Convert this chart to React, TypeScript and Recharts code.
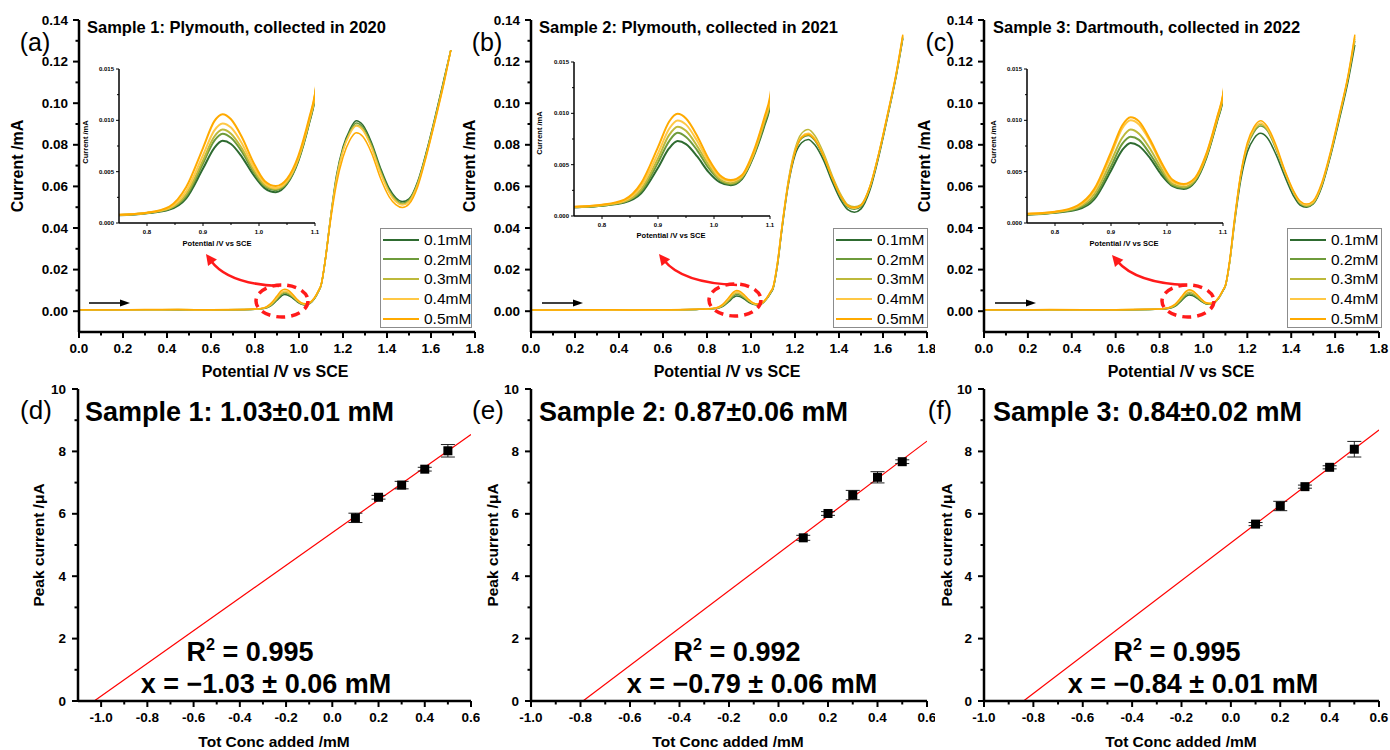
import React from 'react';
import { ComposedChart, Line, XAxis, YAxis, Scatter, ErrorBar } from 'recharts';

const FONT = '"Liberation Sans", Arial, Helvetica, sans-serif';

// ---------- DPV data (potential in V vs SCE, current in mA) ----------
const POTENTIAL = [0, 0.15, 0.3, 0.45, 0.6, 0.75, 0.8, 0.84, 0.87, 0.9, 0.92, 0.935, 0.95, 0.97, 0.99, 1.01, 1.03, 1.05, 1.07, 1.09, 1.1, 1.12, 1.14, 1.17, 1.2, 1.23, 1.26, 1.29, 1.33, 1.37, 1.41, 1.44, 1.47, 1.5, 1.54, 1.58, 1.62, 1.66, 1.69];

const SERIES_NAMES = ['0.1mM', '0.2mM', '0.3mM', '0.4mM', '0.5mM'];
const SERIES_COLORS = ['#2e6b30', '#6e9b3b', '#bdb93b', '#ffc845', '#ffaa00'];

// Sample 1 (Plymouth 2020)
const S1_01 = [0.0006, 0.0006, 0.0007, 0.0007, 0.0006, 0.00075, 0.00095, 0.0013, 0.0024, 0.0053, 0.0073, 0.008, 0.0077, 0.0064, 0.0047, 0.0034, 0.003, 0.0038, 0.006, 0.0098, 0.0122, 0.025, 0.042, 0.065, 0.079, 0.087, 0.0916, 0.0895, 0.081, 0.069, 0.059, 0.0545, 0.0527, 0.054, 0.0625, 0.077, 0.094, 0.112, 0.1255];
const S1_02 = [0.0006, 0.0007, 0.0007, 0.0007, 0.0006, 0.00077, 0.00097, 0.0014, 0.0026, 0.0058, 0.008, 0.0087, 0.0083, 0.0069, 0.005, 0.0036, 0.0032, 0.0039, 0.0061, 0.0099, 0.0123, 0.025, 0.042, 0.064, 0.078, 0.086, 0.0905, 0.0885, 0.08, 0.068, 0.058, 0.0538, 0.052, 0.0535, 0.062, 0.0765, 0.0935, 0.1115, 0.1255];
const S1_03 = [0.0006, 0.0007, 0.0007, 0.0008, 0.0006, 0.00078, 0.00098, 0.0014, 0.0028, 0.0061, 0.0084, 0.0091, 0.0087, 0.0072, 0.0052, 0.0037, 0.0033, 0.004, 0.0062, 0.01, 0.0124, 0.025, 0.042, 0.064, 0.0775, 0.0855, 0.0895, 0.0875, 0.079, 0.067, 0.0575, 0.0532, 0.0515, 0.053, 0.0615, 0.076, 0.093, 0.111, 0.1255];
const S1_04 = [0.0007, 0.0007, 0.0007, 0.0008, 0.0007, 0.0008, 0.001, 0.0015, 0.0031, 0.0066, 0.009, 0.0097, 0.0093, 0.0077, 0.0055, 0.0039, 0.0034, 0.0041, 0.0063, 0.0101, 0.0125, 0.025, 0.042, 0.063, 0.077, 0.085, 0.089, 0.087, 0.0785, 0.0665, 0.057, 0.0526, 0.051, 0.0525, 0.061, 0.0755, 0.0925, 0.1105, 0.1255];
const S1_05 = [0.0007, 0.0007, 0.0008, 0.0008, 0.0007, 0.0008, 0.001, 0.0016, 0.0035, 0.0073, 0.0099, 0.0106, 0.0101, 0.0083, 0.0059, 0.0041, 0.0036, 0.0043, 0.0065, 0.0103, 0.0126, 0.025, 0.041, 0.061, 0.074, 0.082, 0.0858, 0.084, 0.076, 0.064, 0.055, 0.0512, 0.0498, 0.0515, 0.06, 0.075, 0.092, 0.11, 0.1255];

// Sample 2 (Plymouth 2021)
const S2_01 = [0.0005, 0.0004, 0.0006, 0.0005, 0.0006, 0.00085, 0.001, 0.0013, 0.0022, 0.0047, 0.0066, 0.0073, 0.007, 0.0058, 0.0043, 0.0033, 0.003, 0.0036, 0.0057, 0.0088, 0.0107, 0.022, 0.039, 0.061, 0.075, 0.081, 0.0826, 0.08, 0.0725, 0.062, 0.053, 0.0488, 0.0476, 0.0492, 0.058, 0.074, 0.093, 0.113, 0.131];
const S2_02 = [0.0005, 0.0005, 0.0006, 0.0005, 0.0006, 0.00085, 0.001, 0.0014, 0.0024, 0.0052, 0.0073, 0.0081, 0.0077, 0.0064, 0.0047, 0.0035, 0.0031, 0.0037, 0.0058, 0.009, 0.0109, 0.022, 0.039, 0.062, 0.0765, 0.083, 0.0845, 0.082, 0.074, 0.0635, 0.0545, 0.05, 0.049, 0.0503, 0.059, 0.0748, 0.0935, 0.1135, 0.1315];
const S2_03 = [0.0005, 0.0005, 0.0006, 0.0006, 0.0006, 0.00087, 0.00105, 0.0014, 0.0026, 0.0056, 0.0079, 0.0087, 0.0083, 0.0068, 0.005, 0.0036, 0.0032, 0.0038, 0.0059, 0.0092, 0.0111, 0.023, 0.04, 0.063, 0.078, 0.0855, 0.0874, 0.0845, 0.076, 0.065, 0.0558, 0.0512, 0.0502, 0.0513, 0.0598, 0.0755, 0.094, 0.114, 0.132];
const S2_04 = [0.0006, 0.0006, 0.0006, 0.0006, 0.0006, 0.00088, 0.00107, 0.0015, 0.0029, 0.0061, 0.0085, 0.0093, 0.0089, 0.0073, 0.0053, 0.0038, 0.0034, 0.0039, 0.006, 0.0094, 0.0113, 0.023, 0.04, 0.062, 0.077, 0.084, 0.0855, 0.083, 0.0748, 0.064, 0.055, 0.0505, 0.0495, 0.0508, 0.0595, 0.0752, 0.094, 0.114, 0.1325];
const S2_05 = [0.0006, 0.0006, 0.0007, 0.0006, 0.0007, 0.0009, 0.0011, 0.0016, 0.0032, 0.0067, 0.0092, 0.00995, 0.0095, 0.0078, 0.0056, 0.004, 0.0035, 0.004, 0.0062, 0.0096, 0.0116, 0.023, 0.04, 0.062, 0.0765, 0.0835, 0.085, 0.0825, 0.0745, 0.064, 0.055, 0.0508, 0.0498, 0.051, 0.0598, 0.0755, 0.0945, 0.1145, 0.133];

// Sample 3 (Dartmouth 2022)
const S3_01 = [0.0006, 0.0006, 0.0005, 0.0007, 0.0006, 0.0008, 0.001, 0.0013, 0.0023, 0.0051, 0.0071, 0.0078, 0.0075, 0.0063, 0.0047, 0.0036, 0.0033, 0.004, 0.0063, 0.01, 0.0121, 0.024, 0.041, 0.063, 0.0765, 0.083, 0.0855, 0.0835, 0.0755, 0.065, 0.0555, 0.051, 0.05, 0.0515, 0.06, 0.075, 0.0925, 0.111, 0.128];
const S3_02 = [0.0006, 0.0006, 0.0006, 0.0007, 0.0006, 0.00082, 0.00102, 0.0014, 0.0025, 0.0055, 0.0077, 0.0084, 0.0081, 0.0067, 0.005, 0.0037, 0.0034, 0.0041, 0.0064, 0.0101, 0.0122, 0.024, 0.042, 0.065, 0.079, 0.086, 0.089, 0.087, 0.078, 0.067, 0.057, 0.0518, 0.0503, 0.0517, 0.0605, 0.0757, 0.0935, 0.1125, 0.13];
const S3_03 = [0.0006, 0.0007, 0.0006, 0.0007, 0.0007, 0.00085, 0.00105, 0.0015, 0.0028, 0.006, 0.0083, 0.0091, 0.0087, 0.0072, 0.0053, 0.0038, 0.0035, 0.0042, 0.0065, 0.0102, 0.0123, 0.024, 0.042, 0.065, 0.0795, 0.0868, 0.0898, 0.0875, 0.0785, 0.0672, 0.0572, 0.052, 0.0506, 0.052, 0.061, 0.076, 0.094, 0.113, 0.131];
const S3_04 = [0.0007, 0.0007, 0.0007, 0.0007, 0.0007, 0.00088, 0.00108, 0.0016, 0.0031, 0.0066, 0.0092, 0.01, 0.0096, 0.0079, 0.0057, 0.004, 0.0037, 0.0043, 0.0066, 0.0103, 0.0124, 0.024, 0.042, 0.066, 0.08, 0.0875, 0.0905, 0.088, 0.079, 0.0675, 0.0575, 0.0524, 0.051, 0.0524, 0.0613, 0.0765, 0.0945, 0.1135, 0.132];
const S3_05 = [0.0007, 0.0007, 0.0008, 0.0007, 0.0007, 0.0009, 0.0011, 0.0017, 0.0033, 0.0069, 0.0095, 0.0103, 0.0099, 0.0081, 0.0059, 0.0042, 0.0038, 0.0044, 0.0067, 0.0104, 0.0125, 0.025, 0.043, 0.066, 0.081, 0.0885, 0.0916, 0.089, 0.08, 0.068, 0.058, 0.053, 0.0515, 0.053, 0.062, 0.077, 0.095, 0.114, 0.133];

// ---------- Standard addition data ----------
const CONC_ADDED = [0.1, 0.2, 0.3, 0.4, 0.5];
const PEAK_S1 = [5.87, 6.53, 6.92, 7.43, 8.02];
const ERR_S1 = [0.15, 0.06, 0.12, 0.06, 0.2];
const PEAK_S2 = [5.23, 6.01, 6.6, 7.17, 7.67];
const ERR_S2 = [0.08, 0.06, 0.15, 0.18, 0.06];
const PEAK_S3 = [5.67, 6.25, 6.87, 7.49, 8.07];
const ERR_S3 = [0.05, 0.15, 0.05, 0.05, 0.25];
const FIT_X_S1 = [-1.03, 0.6];
const FIT_Y_S1 = [0, 8.54];
const FIT_X_S2 = [-0.79, 0.6];
const FIT_Y_S2 = [0, 8.33];
const FIT_X_S3 = [-0.84, 0.6];
const FIT_Y_S3 = [0, 8.69];

// ---------- Ticks ----------
const TOP_X_MAJOR = [0, 0.2, 0.4, 0.6, 0.8, 1.0, 1.2, 1.4, 1.6, 1.8];
const TOP_X_MINOR = [0.1, 0.3, 0.5, 0.7, 0.9, 1.1, 1.3, 1.5, 1.7];
const TOP_Y_MAJOR = [0, 0.02, 0.04, 0.06, 0.08, 0.1, 0.12, 0.14];
const TOP_Y_MINOR = [0.01, 0.03, 0.05, 0.07, 0.09, 0.11, 0.13];
const IN_X_MAJOR = [0.8, 0.9, 1.0, 1.1];
const IN_X_MINOR = [0.85, 0.95, 1.05];
const IN_Y_MAJOR = [0, 0.005, 0.01, 0.015];
const IN_Y_MINOR = [0.0025, 0.0075, 0.0125];
const BOT_X_MAJOR = [-1.0, -0.8, -0.6, -0.4, -0.2, 0, 0.2, 0.4, 0.6];
const BOT_X_MINOR = [-0.9, -0.7, -0.5, -0.3, -0.1, 0.1, 0.3, 0.5];
const BOT_Y_MAJOR = [0, 2, 4, 6, 8, 10];
const BOT_Y_MINOR = [1, 3, 5, 7, 9];

type TickOpt = { major: number; minor: number; w: number; off: number; fs: number; digits: number; bold: boolean };

function makeTick(kind: 'x' | 'y', majors: number[], o: TickOpt) {
  return (props: any) => {
    const { x, y, payload } = props;
    const v = Number(payload.value);
    const isMajor = majors.some((m) => Math.abs(m - v) < 1e-9);
    const len = isMajor ? o.major : o.minor;
    const txt = isMajor ? v.toFixed(o.digits) : '';
    if (kind === 'x') {
      return (
        <g>
          <line x1={x} x2={x} y1={y} y2={y + len} stroke="#000" strokeWidth={o.w} />
          {isMajor && (
            <text x={x} y={y + o.off} textAnchor="middle" dominantBaseline="central" fontFamily={FONT} fontWeight={o.bold ? 700 : 400} fontSize={o.fs} fill="#000">
              {txt}
            </text>
          )}
        </g>
      );
    }
    return (
      <g>
        <line x1={x} x2={x - len} y1={y} y2={y} stroke="#000" strokeWidth={o.w} />
        {isMajor && (
          <text x={x - o.off} y={y} textAnchor="end" dominantBaseline="central" fontFamily={FONT} fontWeight={o.bold ? 700 : 400} fontSize={o.fs} fill="#000">
            {txt}
          </text>
        )}
      </g>
    );
  };
}

const topXTick = makeTick('x', TOP_X_MAJOR, { major: 6, minor: 3.5, w: 2, off: 16, fs: 13.5, digits: 1, bold: true });
const topYTick = makeTick('y', TOP_Y_MAJOR, { major: 6, minor: 3.5, w: 2, off: 11, fs: 13.5, digits: 2, bold: true });
const inXTick = makeTick('x', IN_X_MAJOR, { major: 3, minor: 2, w: 1, off: 9, fs: 6, digits: 1, bold: true });
const inYTick = makeTick('y', IN_Y_MAJOR, { major: 3, minor: 2, w: 1, off: 5, fs: 6, digits: 3, bold: true });
const botXTick = makeTick('x', BOT_X_MAJOR, { major: 6, minor: 3.5, w: 2, off: 16, fs: 13.5, digits: 1, bold: true });
const botYTick = makeTick('y', BOT_Y_MAJOR, { major: 6, minor: 3.5, w: 2, off: 12, fs: 13.5, digits: 0, bold: true });

const buildRows = (set: number[][]) =>
  POTENTIAL.map((p, i) => ({ p, c1: set[0][i], c2: set[1][i], c3: set[2][i], c4: set[3][i], c5: set[4][i] }));

const ROWS = [
  buildRows([S1_01, S1_02, S1_03, S1_04, S1_05]),
  buildRows([S2_01, S2_02, S2_03, S2_04, S2_05]),
  buildRows([S3_01, S3_02, S3_03, S3_04, S3_05]),
];
const KEYS = ['c1', 'c2', 'c3', 'c4', 'c5'];

const buildPts = (peak: number[], err: number[]) => CONC_ADDED.map((x, i) => ({ x, y: peak[i], err: err[i] }));
const buildFit = (xs: number[], ys: number[]) => xs.map((x, i) => ({ x, y: ys[i] }));
const PTS = [buildPts(PEAK_S1, ERR_S1), buildPts(PEAK_S2, ERR_S2), buildPts(PEAK_S3, ERR_S3)];
const FITS = [buildFit(FIT_X_S1, FIT_Y_S1), buildFit(FIT_X_S2, FIT_Y_S2), buildFit(FIT_X_S3, FIT_Y_S3)];

// ---------- Layout ----------
const TOP_LAYOUT = [
  { left: 0, width: 485, yw: 79, mr: 10 },
  { left: 460, width: 475, yw: 71, mr: 8 },
  { left: 920, width: 470, yw: 64, mr: 11 },
];
const INSET_LAYOUT = [
  { left: 80, top: 55 },
  { left: 535, top: 48 },
  { left: 988, top: 55 },
];
const BOT_LAYOUT = [
  { left: 0, width: 480, yw: 78, mr: 9, domain: [-1.1, 0.6] },
  { left: 460, width: 475, yw: 71, mr: 8, domain: [-1.0, 0.6] },
  { left: 920, width: 470, yw: 64, mr: 11, domain: [-1.0, 0.6] },
];
const LEGEND_LAYOUT = [
  { left: 380, width: 92 },
  { left: 833, width: 95 },
  { left: 1287, width: 95 },
];

const TOP_TITLES = ['Sample 1: Plymouth, collected in 2020', 'Sample 2: Plymouth, collected in 2021', 'Sample 3: Dartmouth, collected in 2022'];
const BOT_TITLES = ['Sample 1: 1.03±0.01 mM', 'Sample 2: 0.87±0.06 mM', 'Sample 3: 0.84±0.02 mM'];
const R2_TEXT = ['0.995', '0.992', '0.995'];
const X_TEXT = ['x = −1.03 ± 0.06 mM', 'x = −0.79 ± 0.06 mM', 'x = −0.84 ± 0.01 mM'];
const TOP_LETTERS = ['(a)', '(b)', '(c)'];
const BOT_LETTERS = ['(d)', '(e)', '(f)'];

const TOP_TEXT_POS = [
  { letter: 35, title: 87, ylab: 18, xlab: 275, inY: { x: 86, y: 142 }, inX: { x: 217, y: 244 } },
  { letter: 487, title: 539, ylab: 470, xlab: 727, inY: { x: 540, y: 133 }, inX: { x: 671, y: 236 } },
  { letter: 940, title: 993, ylab: 925, xlab: 1181, inY: { x: 994, y: 142 }, inX: { x: 1124, y: 244 } },
];
const BOT_TEXT_POS = [
  { letter: 36, title: 85, r2: 250, xeq: 266, ylab: 39, xlab: 274 },
  { letter: 488, title: 539, r2: 737, xeq: 752, ylab: 493, xlab: 728 },
  { letter: 940, title: 993, r2: 1177, xeq: 1193, ylab: 947, xlab: 1181 },
];

const ANNOT = [
  { ex: 282, ey: 301, ax1: 279, ay1: 286, acx: 228, acy: 284, tipx: 206, tipy: 254, bx1: 89, bx2: 130, by: 303 },
  { ex: 735, ey: 300, ax1: 737, ay1: 285, acx: 682, acy: 283, tipx: 659, tipy: 254, bx1: 542, bx2: 583, by: 303 },
  { ex: 1188, ey: 301, ax1: 1187, ay1: 285, acx: 1136, acy: 283, tipx: 1112, tipy: 255, bx1: 995, bx2: 1036, by: 303 },
];

function T({ x, y, size, bold, anchor = 'middle', rotate = 0, children }: any) {
  const tx = anchor === 'middle' ? '-50%' : '0';
  return (
    <div
      style={{
        position: 'absolute',
        left: x,
        top: y,
        transform: `translate(${tx}, -50%)${rotate ? ` rotate(${rotate}deg)` : ''}`,
        transformOrigin: anchor === 'middle' ? 'center' : 'left center',
        fontFamily: FONT,
        fontSize: size,
        fontWeight: bold ? 700 : 400,
        whiteSpace: 'nowrap',
        lineHeight: 1,
        color: '#000',
      }}
    >
      {children}
    </div>
  );
}

function headPoints(tx: number, ty: number, dx: number, dy: number, len: number, half: number) {
  const n = Math.hypot(dx, dy);
  const ux = dx / n;
  const uy = dy / n;
  const bx = tx - ux * len;
  const by = ty - uy * len;
  return `${tx},${ty} ${bx - uy * half},${by + ux * half} ${bx + uy * half},${by - ux * half}`;
}

function TopPanel({ i }: { i: number }) {
  const L = TOP_LAYOUT[i];
  return (
    <div style={{ position: 'absolute', left: L.left, top: 0 }}>
      <ComposedChart width={L.width} height={380} data={ROWS[i]} margin={{ top: 20, right: L.mr, bottom: 18, left: 0 }}>
        <XAxis type="number" dataKey="p" domain={[0, 1.8]} ticks={[...TOP_X_MAJOR, ...TOP_X_MINOR]} interval={0} tick={topXTick} tickLine={false} tickSize={0} tickMargin={0} height={30} axisLine={{ stroke: '#000', strokeWidth: 2.5 }} />
        <YAxis type="number" domain={[-0.01, 0.14]} ticks={[...TOP_Y_MAJOR, ...TOP_Y_MINOR]} interval={0} tick={topYTick} tickLine={false} tickSize={0} tickMargin={0} width={L.yw} axisLine={{ stroke: '#000', strokeWidth: 2.5 }} />
        {KEYS.map((k, j) => (
          <Line key={k} type="monotone" dataKey={k} stroke={SERIES_COLORS[j]} strokeWidth={1.5} dot={false} activeDot={false} isAnimationActive={false} />
        ))}
      </ComposedChart>
    </div>
  );
}

function InsetPanel({ i }: { i: number }) {
  const L = INSET_LAYOUT[i];
  return (
    <div style={{ position: 'absolute', left: L.left, top: L.top }}>
      <ComposedChart width={245} height={185} data={ROWS[i]} margin={{ top: 14, right: 10, bottom: 5, left: 0 }}>
        <XAxis type="number" dataKey="p" domain={[0.75, 1.1]} allowDataOverflow ticks={[...IN_X_MAJOR, ...IN_X_MINOR]} interval={0} tick={inXTick} tickLine={false} tickSize={0} tickMargin={0} height={12} axisLine={{ stroke: '#000', strokeWidth: 1.5 }} />
        <YAxis type="number" domain={[0, 0.015]} allowDataOverflow ticks={[...IN_Y_MAJOR, ...IN_Y_MINOR]} interval={0} tick={inYTick} tickLine={false} tickSize={0} tickMargin={0} width={39} axisLine={{ stroke: '#000', strokeWidth: 1.5 }} />
        {KEYS.map((k, j) => (
          <Line key={k} type="monotone" dataKey={k} stroke={SERIES_COLORS[j]} strokeWidth={2} dot={false} activeDot={false} isAnimationActive={false} />
        ))}
      </ComposedChart>
    </div>
  );
}

function LegendBox({ i }: { i: number }) {
  const L = LEGEND_LAYOUT[i];
  return (
    <div style={{ position: 'absolute', left: L.left, top: 228, width: L.width, height: 100, border: '1.5px solid #8c8c8c', boxSizing: 'border-box', background: '#fff' }}>
      {SERIES_NAMES.map((name, j) => (
        <div key={name} style={{ position: 'absolute', left: 2, top: 0.5 + j * 19.8, height: 20, display: 'flex', alignItems: 'center' }}>
          <svg width={36} height={4} style={{ display: 'block' }}>
            <line x1={0} x2={36} y1={2} y2={2} stroke={SERIES_COLORS[j]} strokeWidth={2} />
          </svg>
          <span style={{ marginLeft: 5, fontSize: 15.5, fontFamily: FONT, lineHeight: 1, color: '#000' }}>{name}</span>
        </div>
      ))}
    </div>
  );
}

const squareShape = (props: any) => {
  const { cx, cy } = props;
  return <rect x={cx - 4.5} y={cy - 4.5} width={9} height={9} fill="#000" />;
};

function BottomPanel({ i }: { i: number }) {
  const L = BOT_LAYOUT[i];
  return (
    <div style={{ position: 'absolute', left: L.left, top: 380 }}>
      <ComposedChart width={L.width} height={370} margin={{ top: 9, right: L.mr, bottom: 19, left: 0 }}>
        <XAxis type="number" dataKey="x" domain={L.domain} allowDataOverflow ticks={[...BOT_X_MAJOR, ...BOT_X_MINOR]} interval={0} tick={botXTick} tickLine={false} tickSize={0} tickMargin={0} height={30} axisLine={{ stroke: '#000', strokeWidth: 2.5 }} />
        <YAxis type="number" domain={[0, 10]} allowDataOverflow ticks={[...BOT_Y_MAJOR, ...BOT_Y_MINOR]} interval={0} tick={botYTick} tickLine={false} tickSize={0} tickMargin={0} width={L.yw} axisLine={{ stroke: '#000', strokeWidth: 2.5 }} />
        <Line data={FITS[i]} type="linear" dataKey="y" stroke="#ff0000" strokeWidth={1.2} dot={false} activeDot={false} isAnimationActive={false} />
        <Scatter data={PTS[i]} dataKey="y" shape={squareShape} isAnimationActive={false}>
          <ErrorBar dataKey="err" direction="y" width={7} stroke="#222" strokeWidth={1} />
        </Scatter>
      </ComposedChart>
    </div>
  );
}

function Annotations() {
  return (
    <svg width={1390} height={750} style={{ position: 'absolute', left: 0, top: 0, pointerEvents: 'none' }}>
      {ANNOT.map((a, i) => {
        const dx = a.tipx - a.acx;
        const dy = a.tipy - a.acy;
        const n = Math.hypot(dx, dy);
        const ex = a.tipx - (dx / n) * 8;
        const ey = a.tipy - (dy / n) * 8;
        return (
          <g key={i}>
            <ellipse cx={a.ex} cy={a.ey} rx={26} ry={16} fill="none" stroke="#ff1a1a" strokeWidth={3.5} strokeDasharray="9 6" />
            <path d={`M ${a.ax1} ${a.ay1} Q ${a.acx} ${a.acy} ${ex} ${ey}`} fill="none" stroke="#ff1a1a" strokeWidth={2.5} />
            <polygon points={headPoints(a.tipx, a.tipy, dx, dy, 11, 5.5)} fill="#ff1a1a" />
            <line x1={a.bx1} x2={a.bx2 - 8} y1={a.by} y2={a.by} stroke="#000" strokeWidth={1.5} />
            <polygon points={headPoints(a.bx2, a.by, 1, 0, 10, 3.5)} fill="#000" />
          </g>
        );
      })}
    </svg>
  );
}

export default function App() {
  return (
    <div style={{ position: 'absolute', left: 0, top: 0, width: 1390, height: 750, background: '#fff', overflow: 'hidden' }}>
      {[0, 1, 2].map((i) => (
        <TopPanel key={`t${i}`} i={i} />
      ))}
      {[0, 1, 2].map((i) => (
        <InsetPanel key={`in${i}`} i={i} />
      ))}
      {[0, 1, 2].map((i) => (
        <LegendBox key={`lg${i}`} i={i} />
      ))}
      {[0, 1, 2].map((i) => (
        <BottomPanel key={`b${i}`} i={i} />
      ))}
      <Annotations />
      {TOP_TEXT_POS.map((p, i) => (
        <React.Fragment key={`tt${i}`}>
          <T x={p.letter} y={42} size={25}>{TOP_LETTERS[i]}</T>
          <T x={p.title} y={27} size={16.5} bold anchor="start">{TOP_TITLES[i]}</T>
          <T x={p.ylab} y={166} size={16} bold rotate={-90}>Current /mA</T>
          <T x={p.xlab} y={372} size={16} bold>Potential /V vs SCE</T>
          <T x={p.inY.x} y={p.inY.y} size={7.5} bold rotate={-90}>Current /mA</T>
          <T x={p.inX.x} y={p.inX.y} size={7.5} bold>Potential /V vs SCE</T>
        </React.Fragment>
      ))}
      {BOT_TEXT_POS.map((p, i) => (
        <React.Fragment key={`bt${i}`}>
          <T x={p.letter} y={410} size={26}>{BOT_LETTERS[i]}</T>
          <T x={p.title} y={412} size={27} bold anchor="start">{BOT_TITLES[i]}</T>
          <T x={p.r2} y={652} size={27} bold>
            R<span style={{ fontSize: '0.6em', position: 'relative', top: '-0.7em' }}>2</span> = {R2_TEXT[i]}
          </T>
          <T x={p.xeq} y={684} size={27} bold>{X_TEXT[i]}</T>
          <T x={p.ylab} y={545} size={15.5} bold rotate={-90}>Peak current /μA</T>
          <T x={p.xlab} y={742} size={15.5} bold>Tot Conc added /mM</T>
        </React.Fragment>
      ))}
    </div>
  );
}
